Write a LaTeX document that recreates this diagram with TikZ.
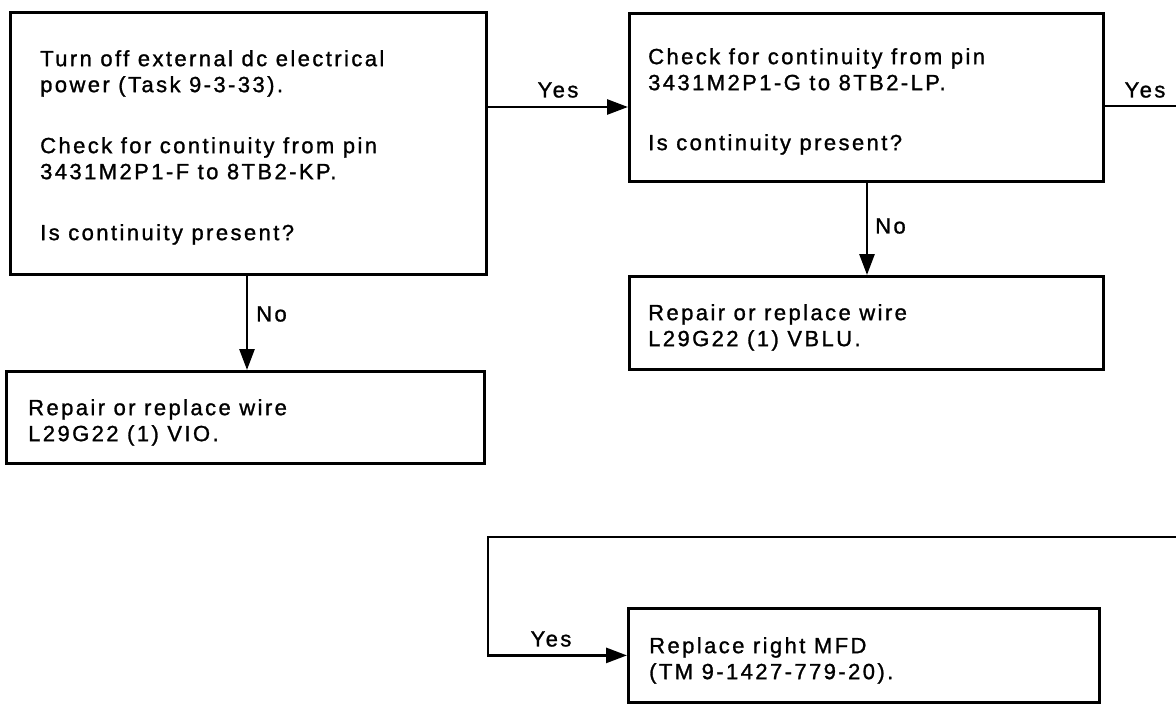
\documentclass[tikz,border=0pt]{standalone}
\usepackage{fontspec}
\setmainfont{Liberation Sans}[LetterSpace=11, FakeBold=1.2]
\usetikzlibrary{arrows.meta}

\tikzset{
  box/.style={draw, line width=2.8pt, anchor=north west, inner sep=0pt},
  boxtext/.style={anchor=north west, inner sep=0pt, align=left, font=\fontsize{22}{26}\selectfont},
  flow/.style={line width=2.8pt, -{Triangle[length=21pt,width=15pt]}},
  wire/.style={line width=2.8pt},
  answer/.style={inner sep=0pt, font=\fontsize{22}{26}\selectfont}
}

\begin{document}
\begin{tikzpicture}[x=1pt, y=-1pt]
  \useasboundingbox (0,0) rectangle (1176,704);
  % boxes
  \node[box, minimum width=476pt, minimum height=262pt] (checkF) at (9,11) {};
  \node[box, minimum width=474pt, minimum height=168pt] (checkG) at (628,12) {};
  \node[box, minimum width=478pt, minimum height=92pt] (wireVIO) at (5,370) {};
  \node[box, minimum width=474pt, minimum height=93pt] (wireVBLU) at (628,275) {};
  \node[box, minimum width=471pt, minimum height=94pt] (mfd) at (627,607) {};
  % texts
  \node[boxtext] (checkF-txt) at (40,50) {Turn off external dc electrical\\ power (Task 9-3-33).\\[35pt] Check for continuity from pin\\ 3431M2P1-F to 8TB2-KP.\\[35pt] Is continuity present?};
  \node[boxtext] (checkG-txt) at (648,48) {Check for continuity from pin\\ 3431M2P1-G to 8TB2-LP.\\[34pt] Is continuity present?};
  \node[boxtext] (wireVIO-txt) at (28,399) {Repair or replace wire\\ L29G22 (1) VIO.};
  \node[boxtext] (wireVBLU-txt) at (648,304) {Repair or replace wire\\ L29G22 (1) VBLU.};
  \node[boxtext] (mfd-txt) at (649,637) {Replace right MFD\\ (TM 9-1427-779-20).};
  % connectors
  \coordinate (yesF) at (485,107);
  \draw[flow] (yesF) -- (yesF -| checkG.west);
  \node[answer] (yesF-lbl) at (558,90) {Yes};
  \coordinate (exitG) at (1176,106);
  \draw[wire] (exitG -| checkG.east) -- (exitG);
  \node[answer] (yesG-lbl) at (1145,90) {Yes};
  \coordinate (noF) at (247,273);
  \draw[flow] (noF) -- (noF |- wireVIO.north);
  \node[answer, anchor=west] (noF-lbl) at (256,314) {No};
  \coordinate (noG) at (867,180);
  \draw[flow] (noG) -- (noG |- wireVBLU.north);
  \node[answer, anchor=west] (noG-lbl) at (875,226) {No};
  \coordinate (backR) at (1176,537);
  \coordinate (backL) at (488,537);
  \draw[flow] (backR) -- (backL) |- (mfd.west);
  \node[answer] (yesBack-lbl) at (551,639) {Yes};
\end{tikzpicture}
\end{document}
